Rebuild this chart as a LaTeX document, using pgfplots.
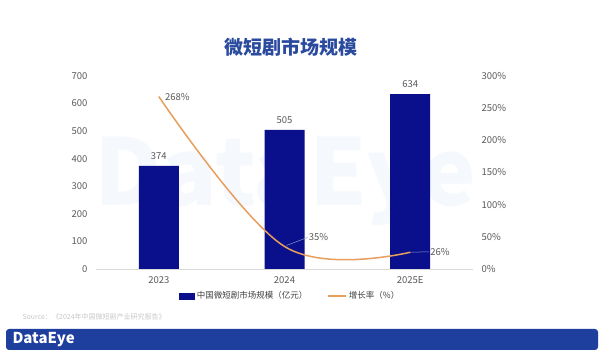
\documentclass[border=0pt]{standalone}
\usepackage{fontspec}
\setmainfont{Noto Sans CJK SC}
\usepackage{pgfplots}
\pgfplotsset{compat=1.18}
\definecolor{barblue}{HTML}{0A0F8C}
\definecolor{lineorange}{HTML}{E89E5C}
\definecolor{titleblue}{HTML}{2A4A9E}
\definecolor{footblue}{HTML}{1F3F9F}
\definecolor{tickgray}{HTML}{595959}
\definecolor{srcgray}{HTML}{C8C8C8}
\definecolor{wm}{HTML}{F5F8FD}
\definecolor{leader}{HTML}{8A9CC8}
\begin{document}
\begin{tikzpicture}[x=1pt,y=1pt]
\path[use as bounding box] (0,0) rectangle (600,361);
\fill[white] (0,0) rectangle (600,361);
\node[text=wm, font=\fontsize{92}{92}\selectfont\bfseries] at (285,180) {DataEye};
\node[text=titleblue, font=\fontsize{19}{22}\selectfont\bfseries] at (291,314) {微短剧市场规模};
\begin{axis}[
  at={(96pt,92pt)}, anchor=south west, scale only axis,
  width=377pt, height=193pt,
  xmin=-0.5, xmax=2.5, ymin=0, ymax=700,
  xtick={0,1,2}, xticklabels={2023,2024,2025E},
  ytick={0,100,...,700},
  axis x line*=bottom, axis y line*=left,
  y axis line style={draw=none},
  x axis line style={draw=black!15},
  major tick length=0pt,
  /pgf/number format/assume math mode=true,
  tick label style={font=\fontsize{9.5}{11}\selectfont, text=tickgray},
  xticklabel style={yshift=-4pt},
  yticklabel style={xshift=-5pt},
  ybar, bar width=40pt,
  nodes near coords,
  every node near coord/.append style={font=\fontsize{9.5}{11}\selectfont, text=tickgray, yshift=3pt},
  legend style={at={(0.515,-0.14)}, anchor=center, draw=none, fill=none,
    legend columns=2, font=\fontsize{8.5}{10}\selectfont, text=black!75,
    /tikz/every even column/.append style={column sep=18pt}},
]
\addplot[fill=barblue, draw=none,
  legend image code/.code={\fill[barblue] (0pt,-3.5pt) rectangle (16pt,3.5pt);}]
  coordinates {(0,374) (1,505) (2,634)};
\addlegendentry{中国微短剧市场规模（亿元）}
\addlegendimage{legend image code/.code={\draw[lineorange, line width=1.5pt] (0pt,0pt) -- (18pt,0pt);}}
\addlegendentry{增长率（\%）}
\end{axis}
\begin{axis}[
  at={(96pt,92pt)}, anchor=south west, scale only axis,
  width=377pt, height=193pt,
  xmin=-0.5, xmax=2.5, ymin=0, ymax=300,
  ytick={0,50,...,300},
  yticklabel={\pgfmathprintnumber{\tick}\%},
  axis y line*=right, axis x line=none,
  y axis line style={draw=none},
  major tick length=0pt,
  /pgf/number format/assume math mode=true,
  tick label style={font=\fontsize{9.5}{11}\selectfont, text=tickgray},
  yticklabel style={xshift=5pt},
  clip=false,
]
\addplot[smooth, tension=0.6, lineorange, line width=1.5pt]
  coordinates {(0,268) (1,35) (2,26)};
\node[anchor=west, font=\fontsize{9.5}{11}\selectfont, text=tickgray, inner sep=1pt] at (axis cs:0,268) [xshift=5pt] {268\%};
\draw[leader, line width=0.5pt] (axis cs:1,35) ++(2pt,1pt) -- ++(21pt,8pt) node[anchor=west, font=\fontsize{9.5}{11}\selectfont, text=tickgray, inner sep=1pt] {35\%};
\draw[leader, line width=0.5pt] (axis cs:2,26) -- ++(19pt,0.5pt) node[anchor=west, font=\fontsize{9.5}{11}\selectfont, text=tickgray, inner sep=1pt] {26\%};
\end{axis}
\node[text=srcgray, font=\fontsize{7}{8}\selectfont, anchor=west] at (19,44) {Source：《2024年中国微短剧产业研究报告》};
\fill[footblue, rounded corners=3pt] (6,11) rectangle (598,32);
\node[white, font=\fontsize{15}{16}\selectfont\bfseries, anchor=west] at (9,21.5) {DataEye};
\end{tikzpicture}
\end{document}
